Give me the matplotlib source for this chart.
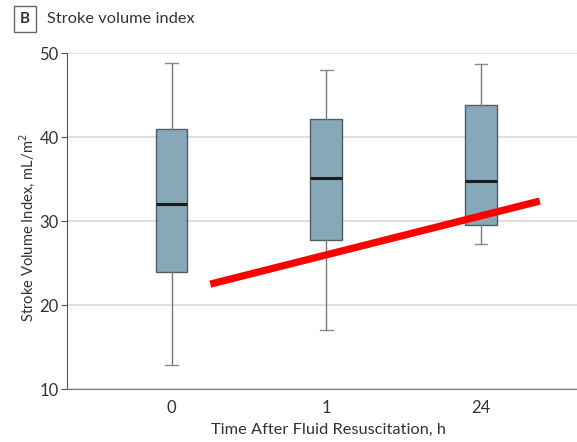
import numpy as np
import matplotlib
matplotlib.use('Agg')
import matplotlib.pyplot as plt

plt.rcParams['font.family'] = ['Lato', 'DejaVu Sans']

# ---- data ----
groups = ['0', '1', '24']
whislo = [12.9, 17.0, 27.3]
q1 = [24.0, 27.7, 29.6]
med = [32.0, 35.2, 34.8]
q3 = [41.0, 42.2, 43.8]
whishi = [48.9, 48.0, 48.7]

trend_x = [0.25, 2.38]
trend_y = [22.5, 32.4]

stats = [dict(whislo=whislo[i], q1=q1[i], med=med[i], q3=q3[i], whishi=whishi[i],
              label=groups[i], fliers=[]) for i in range(len(groups))]

fig = plt.figure(figsize=(5.77, 4.42), dpi=100)
ax = fig.add_axes([0.1161, 0.1199, 0.8839, 0.7595])

ax.bxp(stats, positions=np.arange(len(groups)), widths=0.205, patch_artist=True,
       showfliers=False,
       boxprops=dict(facecolor='#87a8b8', edgecolor='#4f5d65', linewidth=1.0),
       medianprops=dict(color='#1c1c1c', linewidth=2.2),
       whiskerprops=dict(color='#7a7a7a', linewidth=1.0),
       capprops=dict(color='#8a8a8a', linewidth=1.0), capwidths=0.08)

ax.plot(trend_x, trend_y, color='#ff0000', linewidth=5.2, solid_capstyle='butt', zorder=5)

ax.set_xlim(-0.676, 2.62)
ax.set_ylim(10, 50)
ax.set_yticks([10, 20, 30, 40, 50])
ax.grid(axis='y', color='#dcdcdc', linewidth=1.3)
ax.set_axisbelow(True)
for s in ['top', 'right']:
    ax.spines[s].set_visible(False)
ax.spines['left'].set_color('#555555')
ax.spines['bottom'].set_color('#777777')
ax.tick_params(axis='y', length=4, color='#555555', labelsize=12, labelcolor='#333333', pad=2)
ax.tick_params(axis='x', length=0, labelsize=12, labelcolor='#333333', pad=8)
ax.set_ylabel('Stroke Volume Index, mL/m$^2$', fontsize=10.6, color='#333333')
ax.yaxis.set_label_coords(-0.058, 0.48)
ax.set_xlabel('Time After Fluid Resuscitation, h', fontsize=11.8, color='#333333')
ax.xaxis.set_label_coords(0.512, -0.102)

fig.text(0.0433, 0.957, 'B', fontsize=11, fontweight='bold', color='#333333',
         ha='center', va='center',
         bbox=dict(boxstyle='square,pad=0.4', facecolor='white', edgecolor='#666666', linewidth=1))
fig.text(0.082, 0.957, 'Stroke volume index', fontsize=11.8, color='#333333',
         ha='left', va='center')

fig.savefig('out.png', dpi=100)
